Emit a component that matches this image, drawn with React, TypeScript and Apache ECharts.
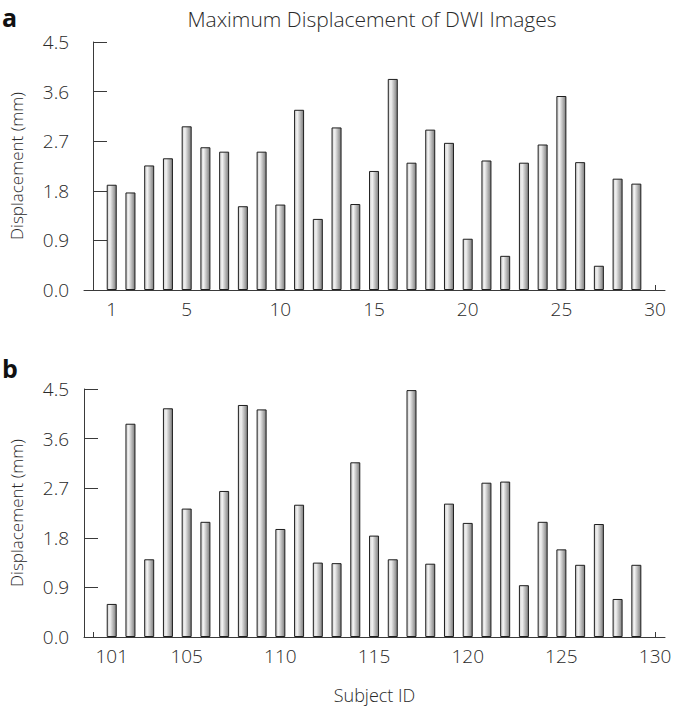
import React, { useEffect, useRef } from "react";
import * as echarts from "echarts";

const subjectsA = [1, 2, 3, 4, 5, 6, 7, 8, 9, 10, 11, 12, 13, 14, 15, 16, 17, 18, 19, 20, 21, 22, 23, 24, 25, 26, 27, 28, 29];
const valuesA = [1.91, 1.77, 2.26, 2.39, 2.97, 2.59, 2.51, 1.52, 2.51, 1.55, 3.27, 1.29, 2.95, 1.56, 2.16, 3.83, 2.31, 2.91, 2.67, 0.93, 2.35, 0.62, 2.31, 2.64, 3.52, 2.32, 0.44, 2.02, 1.93];
const labelTicksA = [1, 5, 10, 15, 20, 25, 30];
const edgeTicksA = [0, 30];

const subjectsB = [101, 102, 103, 104, 105, 106, 107, 108, 109, 110, 111, 112, 113, 114, 115, 116, 117, 118, 119, 120, 121, 122, 123, 124, 125, 126, 127, 128, 129];
const valuesB = [0.6, 3.87, 1.41, 4.15, 2.33, 2.09, 2.65, 4.21, 4.13, 1.96, 2.4, 1.35, 1.34, 3.17, 1.84, 1.41, 4.48, 1.33, 2.42, 2.07, 2.8, 2.82, 0.94, 2.09, 1.59, 1.31, 2.05, 0.69, 1.31];
const labelTicksB = [101, 105, 110, 115, 120, 125, 130];
const edgeTicksB = [100, 130];

const yTicks = [0, 0.9, 1.8, 2.7, 3.6, 4.5];

const FONT = "Open Sans";
const AXIS = "#3a3a3a";
const TEXT = "#2a2a2a";

const barColor = new echarts.graphic.LinearGradient(0, 0, 1, 0, [
  { offset: 0, color: "#cfcfcf" },
  { offset: 0.3, color: "#f2f2f2" },
  { offset: 1, color: "#7c7c7c" },
]);

function xAxisFor(idx: number, lo: number, hi: number, labels: number[], edges: number[], withName: boolean) {
  return {
    type: "value",
    gridIndex: idx,
    min: lo,
    max: hi,
    axisLine: { show: true, onZero: false, lineStyle: { color: AXIS, width: 1 } },
    axisTick: { show: true, inside: true, length: 5, customValues: edges, lineStyle: { color: AXIS } },
    axisLabel: {
      show: true,
      customValues: labels,
      margin: 9,
      fontSize: 19,
      fontWeight: 300,
      fontFamily: FONT,
      color: TEXT,
      showMinLabel: true,
      showMaxLabel: true,
    },
    splitLine: { show: false },
    name: withName ? "Subject ID" : "",
    nameLocation: "middle",
    nameGap: 49,
    nameTextStyle: { fontSize: 18, fontWeight: 300, fontFamily: FONT, color: TEXT },
  };
}

function yAxisFor(idx: number) {
  return {
    type: "value",
    gridIndex: idx,
    min: 0,
    max: 4.5,
    interval: 0.9,
    axisLine: { show: true, lineStyle: { color: AXIS, width: 1 } },
    axisTick: { show: true, inside: true, length: 14, lineStyle: { color: AXIS } },
    axisLabel: {
      margin: 15,
      fontSize: 19,
      fontWeight: 300,
      fontFamily: FONT,
      color: TEXT,
      formatter: (v: number) => v.toFixed(1),
      customValues: yTicks,
    },
    splitLine: { show: false },
    name: "Displacement (mm)",
    nameLocation: "middle",
    nameGap: 59,
    nameRotate: 90,
    nameTextStyle: { fontSize: 17, fontWeight: 300, fontFamily: FONT, color: TEXT },
  };
}

export default function App() {
  const ref = useRef<HTMLDivElement>(null);
  useEffect(() => {
    if (!ref.current) return;
    const chart = echarts.init(ref.current, undefined, { renderer: "svg" });
    const barStyle = { color: barColor, borderColor: "#1e1e1e", borderWidth: 1 };
    chart.setOption({
      animation: false,
      backgroundColor: "#ffffff",
      title: {
        text: "Maximum Displacement of DWI Images",
        left: 367,
        top: 3,
        textAlign: "center",
        textStyle: { fontSize: 21, fontWeight: 300, fontFamily: FONT, color: TEXT },
      },
      graphic: [
        { type: "text", left: 2, top: 4, style: { text: "a", fontSize: 25, fontWeight: "bold", fontFamily: FONT, fill: "#111" } },
        { type: "text", left: 2, top: 355, style: { text: "b", fontSize: 25, fontWeight: "bold", fontFamily: FONT, fill: "#111" } },
      ],
      grid: [
        { left: 82, top: 42, width: 583, height: 248 },
        { left: 82, top: 389, width: 583, height: 248 },
      ],
      xAxis: [
        xAxisFor(0, -0.48, 30.53, labelTicksA, edgeTicksA, false),
        xAxisFor(1, 99.52, 130.53, labelTicksB, edgeTicksB, true),
      ],
      yAxis: [yAxisFor(0), yAxisFor(1)],
      series: [
        {
          type: "bar",
          xAxisIndex: 0,
          yAxisIndex: 0,
          barWidth: 10,
          itemStyle: barStyle,
          data: subjectsA.map((s, i) => [s, valuesA[i]]),
        },
        {
          type: "bar",
          xAxisIndex: 1,
          yAxisIndex: 1,
          barWidth: 10,
          itemStyle: barStyle,
          data: subjectsB.map((s, i) => [s, valuesB[i]]),
        },
      ],
    });
    return () => chart.dispose();
  }, []);
  return <div ref={ref} style={{ position: "fixed", left: 0, top: 0, width: 675, height: 710 }} />;
}
